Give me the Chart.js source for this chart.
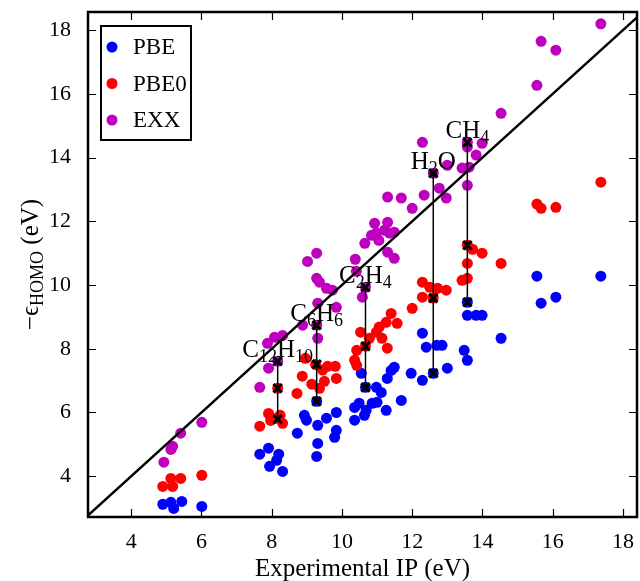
<!DOCTYPE html>
<html>
<head>
<meta charset="utf-8">
<script src="https://cdn.jsdelivr.net/npm/chart.js@4/dist/chart.umd.min.js"></script>
<style>
  html, body { margin: 0; padding: 0; background: #fff; }
</style>
</head>
<body>
<canvas id="chart" width="640" height="581"></canvas>
<script>
// Tick labels
const xTicks = [4, 6, 8, 10, 12, 14, 16, 18];
const yTicks = [4, 6, 8, 10, 12, 14, 16, 18];

// PBE: experimental IP vs -eps_HOMO
const pbeIP = [4.90, 5.13, 5.21, 5.44, 6.01, 7.66, 7.91, 7.94, 8.14, 8.20, 8.31,
  8.73, 8.93, 8.99, 9.28, 9.31, 9.56, 9.84, 9.84, 9.79, 9.31, 9.28,
  10.36, 10.36, 10.49, 10.64, 10.69, 10.86, 11.00, 11.26, 11.12, 10.98, 10.67, 10.55, 11.29, 11.40, 11.49, 11.69,
  11.97, 12.29, 12.60, 13.00, 12.29, 12.40, 12.70, 12.85, 13.48, 13.57, 13.57, 13.57, 13.82, 13.99, 14.53,
  15.55, 17.37, 15.67, 16.09];
const pbeHomo = [3.12, 3.18, 2.99, 3.21, 3.05, 4.69, 4.88, 4.31, 4.50, 4.69, 4.15,
  5.35, 5.91, 5.76, 6.35, 5.60, 5.82, 6.00, 5.44, 5.22, 5.03, 4.62,
  5.76, 6.16, 6.29, 5.91, 6.07, 6.29, 6.32, 6.07, 6.63, 6.79, 6.79, 7.23, 7.07, 7.32, 7.42, 6.38,
  7.23, 7.01, 7.23, 7.39, 8.49, 8.05, 8.11, 8.11, 7.95, 7.64, 9.46, 9.05, 9.05, 9.05, 8.33,
  10.28, 10.28, 9.43, 9.62];

// PBE0
const pbe0IP = [4.90, 5.13, 5.18, 5.41, 6.01, 7.66, 7.91, 7.97, 8.14, 8.24, 8.31, 8.17,
  8.72, 8.87, 8.96, 9.14, 9.25, 9.36, 9.45, 9.50, 9.59, 9.81, 9.84,
  10.36, 10.42, 10.42, 10.53, 10.67, 10.78, 10.98, 11.06, 11.14, 11.26, 11.29, 11.40, 11.57, 12.00,
  12.29, 12.50, 12.72, 12.97, 12.29, 12.60,
  13.57, 13.72, 13.99, 13.57, 13.57, 13.42, 14.53,
  15.55, 15.67, 16.09, 17.37];
const pbe0Homo = [3.68, 3.93, 3.68, 3.93, 4.03, 5.57, 5.97, 5.75, 5.82, 5.91, 5.66, 6.76,
  6.60, 7.14, 7.70, 6.89, 7.51, 6.76, 7.33, 6.98, 7.45, 7.45, 7.07,
  7.64, 7.48, 7.95, 8.52, 8.08, 8.33, 8.52, 8.68, 8.33, 8.83, 8.02, 9.11, 8.80, 9.27,
  10.09, 9.93, 9.90, 9.84, 9.62, 9.59,
  11.25, 11.12, 11.00, 10.68, 10.21, 10.15, 10.68,
  12.54, 12.41, 12.44, 13.23];

// EXX
const exxIP = [4.93, 5.13, 5.18, 5.41, 6.01, 7.66, 7.91, 7.88, 8.08, 8.31, 8.17,
  8.88, 9.28, 9.31, 9.31, 9.28, 9.36, 9.56, 9.73, 9.84, 9.02, 9.28,
  10.38, 10.41, 10.58, 10.67,
  10.65, 10.84, 10.98, 10.93, 11.21, 11.30, 11.35, 11.49, 11.30, 11.49, 11.05,
  11.30, 11.69, 12.00, 12.34, 12.77, 12.97,
  12.29, 12.60, 13.00, 13.42, 13.57, 13.82, 13.99, 13.57, 13.62, 13.57, 14.53,
  15.67, 16.09, 15.55, 17.37];
const exxHomo = [4.44, 4.84, 4.94, 5.35, 5.69, 6.79, 7.39, 8.17, 8.36, 8.42, 7.61,
  8.74, 8.74, 8.33, 9.43, 10.21, 10.09, 9.90, 9.84, 9.30, 10.74, 11.00,
  10.81, 10.43, 9.62, 9.93,
  11.31, 11.56, 11.63, 11.94, 11.72, 11.97, 11.63, 11.66, 11.03, 10.84, 11.40,
  12.76, 12.73, 12.41, 12.82, 13.04, 12.73,
  14.48, 13.51, 13.76, 13.67, 14.33, 14.08, 14.45, 13.13, 13.70, 14.48, 15.39,
  17.65, 17.37, 16.27, 18.20];

// Highlighted molecules
const molecules = ['C_{12}H_{10}', 'C_{6}H_{6}', 'C_{2}H_{4}', 'H_{2}O', 'CH_{4}'];
const moleculeIP = [8.17, 9.28, 10.67, 12.60, 13.57];
const moleculePbe = [5.79, 6.35, 6.79, 7.23, 9.46];
const moleculePbe0 = [6.76, 7.51, 8.08, 9.59, 11.25];
const moleculeExx = [7.61, 8.74, 9.93, 13.51, 14.48];

const seriesNames = ['PBE', 'PBE0', 'EXX'];
const seriesColors = ['#0000ff', '#ff0000', '#bf00bf'];

const serif = '"Liberation Serif", "DejaVu Serif", serif';

function toPoints(xs, ys) {
  return xs.map((x, i) => ({ x: x, y: ys[i] }));
}

// split "C_{12}H_{10}" into [text, isSub] parts
function parseParts(label) {
  const parts = [];
  const re = /_\{([^}]*)\}/g;
  let last = 0, m;
  while ((m = re.exec(label)) !== null) {
    if (m.index > last) parts.push([label.slice(last, m.index), false]);
    parts.push([m[1], true]);
    last = re.lastIndex;
  }
  if (last < label.length) parts.push([label.slice(last), false]);
  return parts;
}

function drawParts(ctx, parts, cx, baseline, size, subSize, subDrop) {
  const widths = parts.map(p => {
    ctx.font = (p[1] ? subSize : size) + 'px ' + serif;
    return ctx.measureText(p[0]).width;
  });
  const total = widths.reduce((a, b) => a + b, 0);
  let x = cx - total / 2;
  ctx.textAlign = 'left';
  ctx.textBaseline = 'alphabetic';
  parts.forEach((p, i) => {
    ctx.font = (p[1] ? subSize : size) + 'px ' + serif;
    ctx.fillText(p[0], x, baseline + (p[1] ? subDrop : 0));
    x += widths[i];
  });
}

const datasets = [];

molecules.forEach((name, i) => {
  datasets.push({
    label: name,
    data: toPoints([moleculeIP[i], moleculeIP[i], moleculeIP[i]],
                   [moleculePbe[i], moleculePbe0[i], moleculeExx[i]]),
    showLine: true,
    borderColor: '#000',
    borderWidth: 1.5,
    pointStyle: 'crossRot',
    pointRadius: 6,
    pointBorderWidth: 3,
    pointBorderColor: '#000',
    pointBackgroundColor: '#000',
    order: 0
  });
});

datasets.push({
  label: 'diagonal',
  data: [{ x: 2, y: 2 }, { x: 19, y: 19 }],
  showLine: true,
  borderColor: '#000',
  borderWidth: 2.5,
  pointRadius: 0,
  order: 1
});

[[exxIP, exxHomo, 2], [pbe0IP, pbe0Homo, 1], [pbeIP, pbeHomo, 0]].forEach(([xs, ys, k], j) => {
  datasets.push({
    label: seriesNames[k],
    data: toPoints(xs, ys),
    backgroundColor: seriesColors[k],
    borderColor: seriesColors[k],
    borderWidth: 0,
    pointRadius: 5.5,
    order: 2 + j
  });
});

const decorations = {
  id: 'decorations',
  afterDraw(chart) {
    const ctx = chart.ctx;
    const area = chart.chartArea;
    const xs = chart.scales.x, ys = chart.scales.y;
    ctx.save();
    ctx.fillStyle = '#000';
    ctx.strokeStyle = '#000';

    // inward ticks on all four sides
    ctx.lineWidth = 1.2;
    ctx.beginPath();
    xTicks.forEach(v => {
      const px = Math.round(xs.getPixelForValue(v)) + 0.5;
      ctx.moveTo(px, area.bottom); ctx.lineTo(px, area.bottom - 8);
      ctx.moveTo(px, area.top); ctx.lineTo(px, area.top + 8);
    });
    yTicks.forEach(v => {
      const py = Math.round(ys.getPixelForValue(v)) + 0.5;
      ctx.moveTo(area.left, py); ctx.lineTo(area.left + 8, py);
      ctx.moveTo(area.right, py); ctx.lineTo(area.right - 8, py);
    });
    ctx.stroke();

    // frame
    ctx.lineWidth = 2.5;
    ctx.strokeRect(area.left, area.top, area.right - area.left, area.bottom - area.top);

    // molecule labels above top marker
    molecules.forEach((name, i) => {
      const px = xs.getPixelForValue(moleculeIP[i]);
      const py = ys.getPixelForValue(moleculeExx[i]);
      drawParts(ctx, parseParts(name), px, py - 4, 25, 18, 5);
    });

    // legend
    const lx = area.left + 13, ly = area.top + 14, lw = 90, lh = 114;
    ctx.fillStyle = '#fff';
    ctx.fillRect(lx, ly, lw, lh);
    ctx.lineWidth = 2;
    ctx.strokeRect(lx, ly, lw, lh);
    seriesNames.forEach((name, i) => {
      const cy = ly + 21 + i * 36.5;
      ctx.fillStyle = seriesColors[i];
      ctx.beginPath();
      ctx.arc(lx + 11, cy, 5.5, 0, Math.PI * 2);
      ctx.fill();
      ctx.fillStyle = '#000';
      ctx.font = '23px ' + serif;
      ctx.textAlign = 'left';
      ctx.textBaseline = 'middle';
      ctx.fillText(name, lx + 32, cy + 1);
    });

    // axis titles
    ctx.fillStyle = '#000';
    drawParts(ctx, [['Experimental IP (eV)', false]], (area.left + area.right) / 2, 576, 25, 18, 5);
    ctx.translate(38, (area.top + area.bottom) / 2);
    ctx.rotate(-Math.PI / 2);
    drawParts(ctx, [['\u2212\u03f5', false], ['HOMO', true], [' (eV)', false]], 0, 0, 25, 18, 5);
    ctx.restore();
  }
};

const tickFont = { family: serif, size: 22 };

new Chart(document.getElementById('chart'), {
  type: 'scatter',
  data: { datasets: datasets },
  options: {
    responsive: false,
    animation: false,
    layout: { autoPadding: false, padding: { top: 12, right: 3, left: 0, bottom: 0 } },
    plugins: {
      legend: { display: false },
      tooltip: { enabled: false }
    },
    scales: {
      x: {
        type: 'linear',
        min: 2.77,
        max: 18.4,
        grid: { display: false },
        border: { display: false },
        afterBuildTicks: s => { s.ticks = xTicks.map(v => ({ value: v })); },
        afterFit: s => { s.height = 64; s.paddingLeft = 0; s.paddingRight = 0; },
        ticks: { font: tickFont, color: '#000', padding: 4, maxRotation: 0 }
      },
      y: {
        type: 'linear',
        min: 2.72,
        max: 18.57,
        grid: { display: false },
        border: { display: false },
        afterBuildTicks: s => { s.ticks = yTicks.map(v => ({ value: v })); },
        afterFit: s => { s.width = 88; s.paddingTop = 0; s.paddingBottom = 0; },
        ticks: { font: tickFont, color: '#000', padding: 9 }
      }
    }
  },
  plugins: [decorations]
});
</script>
</body>
</html>
